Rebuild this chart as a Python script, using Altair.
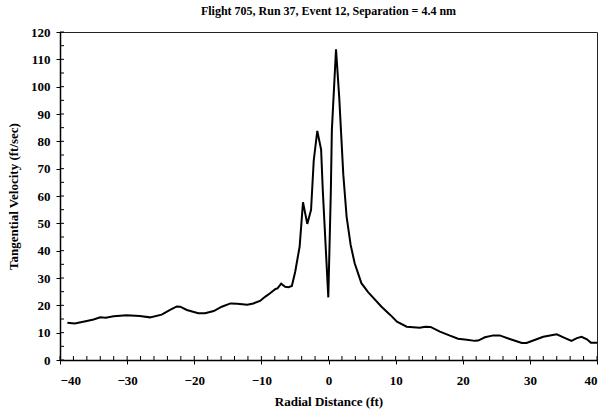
import altair as alt
import pandas as pd

# Radial distance (ft)
radial_ft = [-38.9, -37.8, -36.0, -35.0, -34.0, -33.2, -32.0, -30.1, -28.1, -26.6,
             -24.85, -23.6, -22.6, -22.1, -21.1, -19.4, -18.4, -17.1, -15.9, -14.6,
             -13.6, -12.1, -11.2, -10.2, -9.4, -8.7, -7.9, -7.6, -7.05, -6.46,
             -5.96, -5.46, -4.96, -4.3, -3.8, -3.16, -2.6, -2.2, -1.67, -1.1,
             -0.85, -0.03, 0.35, 0.5, 1.12, 1.6, 2.2, 2.7, 3.3, 3.9,
             4.9, 5.9, 7.9, 9.2, 10.2, 11.65, 13.6, 14.4, 15.2, 16.6,
             18.1, 19.3, 20.6, 21.8, 22.3, 23.3, 24.55, 25.5, 27.0, 28.8,
             29.5, 31.0, 32.0, 33.0, 34.0, 35.0, 36.2, 37.0, 37.7, 38.5,
             39.1, 40.0]
# Tangential velocity (ft/sec)
velocity = [13.6, 13.4, 14.3, 14.8, 15.6, 15.5, 16.0, 16.4, 16.1, 15.6,
            16.6, 18.3, 19.6, 19.5, 18.3, 17.1, 17.1, 17.9, 19.5, 20.7,
            20.6, 20.2, 20.7, 21.6, 23.2, 24.4, 26.0, 26.2, 27.9, 26.8,
            26.6, 27.1, 32.3, 41.5, 57.7, 49.8, 54.9, 73.0, 83.8, 77.0,
            62.0, 22.9, 62.0, 84.0, 113.7, 96.0, 68.0, 52.4, 42.1, 35.4,
            28.1, 24.8, 19.5, 16.5, 14.0, 12.2, 11.8, 12.2, 12.1, 10.4,
            8.9, 7.8, 7.4, 7.0, 7.1, 8.3, 9.0, 9.0, 7.7, 6.2,
            6.2, 7.6, 8.5, 9.0, 9.4, 8.3, 7.0, 8.0, 8.5, 7.6,
            6.3, 6.3]

x_major = [-40, -30, -20, -10, 0, 10, 20, 30, 40]
x_minor = list(range(-40, 41, 2))
y_major = list(range(0, 121, 10))
y_minor = list(range(0, 121, 5))

W, H = 537, 328
FONT = "Liberation Serif"

df = pd.DataFrame({"r": radial_ft, "v": velocity})
xs = alt.Scale(domain=[-40, 40], nice=False)
ys = alt.Scale(domain=[0, 120], nice=False)

x_axis = alt.Axis(values=x_major, title="Radial Distance (ft)", grid=False,
                  tickSize=4, labelPadding=10, titlePadding=8, format="d",
                  labelOverlap=False)
y_axis = alt.Axis(values=y_major, title="Tangential Velocity (ft/sec)", grid=False,
                  tickSize=4, labelPadding=6, titlePadding=10, format="d",
                  labelOverlap=False)

line = alt.Chart(df).mark_line(color="black", strokeWidth=2).encode(
    x=alt.X("r:Q", scale=xs, axis=x_axis),
    y=alt.Y("v:Q", scale=ys, axis=y_axis),
)

xt = alt.Chart(pd.DataFrame({"t": x_minor})).mark_rule(color="black", strokeWidth=1).encode(
    x=alt.X("t:Q", scale=xs, axis=x_axis), y=alt.value(H), y2=alt.value(H - 4))
yt = alt.Chart(pd.DataFrame({"t": y_minor})).mark_rule(color="black", strokeWidth=1).encode(
    y=alt.Y("t:Q", scale=ys, axis=y_axis), x=alt.value(0), x2=alt.value(4))

chart = alt.layer(line, xt, yt).properties(
    width=W, height=H,
    background="white",
    title=alt.TitleParams("Flight 705, Run 37, Event 12, Separation = 4.4 nm",
                          font=FONT, fontSize=12, fontWeight="bold", color="black",
                          anchor="middle", offset=8),
    autosize=alt.AutoSizeParams(type="none"),
    padding={"left": 60, "top": 32, "right": 6, "bottom": 51},
).configure_view(stroke="#222", strokeWidth=1).configure_axis(
    domainColor="black", domainWidth=1.5, tickColor="black", tickWidth=1,
    labelFont=FONT, labelFontSize=13, labelFontWeight="bold", labelColor="black",
    titleFont=FONT, titleFontSize=13, titleFontWeight="bold", titleColor="black",
)

chart.save("out.html", embed_options={"renderer": "svg", "actions": False})
